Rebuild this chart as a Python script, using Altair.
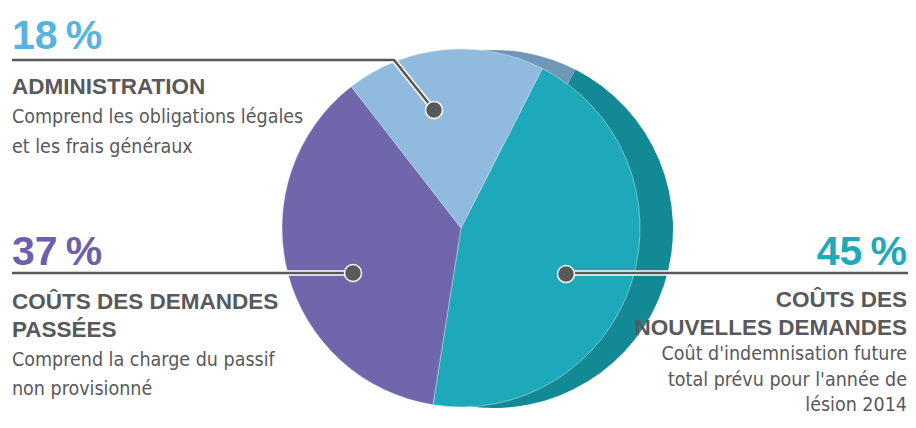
import altair as alt
import pandas as pd
import math

# ---------------- data ----------------
categories = ["Coûts des nouvelles demandes", "Coûts des demandes passées", "Administration"]
shares = [45, 37, 18]
slice_order = [1, 2, 3]

pct_labels = ["18\u2009%", "37\u2009%", "45\u2009%"]
admin_title = ["ADMINISTRATION"]
admin_desc = ["Comprend les obligations légales", "et les frais généraux"]
past_title = ["COÛTS DES DEMANDES", "PASSÉES"]
past_desc = ["Comprend la charge du passif", "non provisionné"]
new_title = ["COÛTS DES", "NOUVELLES DEMANDES"]
new_desc = ["Coût d'indemnisation future", "total prévu pour l'année de", "lésion 2014"]

# ---------------- styles ----------------
front_colors = ["#1ea9ba", "#7066ab", "#90bade"]
side_colors = ["#138996", "#564d8c", "#6f97b8"]
pct_colors = ["#5ab3df", "#6c5fab", "#1fa9b9"]
GRAY = "#58595b"
COND = "DejaVu Sans Condensed, DejaVu Sans, sans-serif"
WIDE = "Liberation Sans, Arial, sans-serif"

OFF = 8  # page margin: page pixel -> chart pixel
def P(v):
    return v - OFF

START = math.radians(27)

pie_df = pd.DataFrame({"category": categories, "value": shares, "order": slice_order})

def pie(cx, cy, r, colors, **kw):
    return alt.Chart(pie_df).mark_arc(radius=r, **kw).encode(
        x=alt.value(P(cx)),
        y=alt.value(P(cy)),
        theta=alt.Theta("value:Q", stack=True,
                        scale=alt.Scale(domain=[0, sum(shares)], range=[START, START + 2 * math.pi])),
        order=alt.Order("order:Q"),
        color=alt.Color("category:N", scale=alt.Scale(domain=categories, range=colors), legend=None),
    )

R = 179
side = pie(494, 229, R, side_colors)
front = pie(461, 228, R, front_colors, stroke="#d8f0f2", strokeWidth=0.8, strokeOpacity=0.6)

# leader lines (layout)
lead_rows = []
for gid, pts in enumerate([[(12, 60), (394, 60), (434, 110)],
                           [(12, 273), (353, 273)],
                           [(566, 273), (916, 273)]]):
    for i, (x, y) in enumerate(pts):
        lead_rows.append({"g": gid, "i": i, "x": P(x), "y": P(y)})
lead_df = pd.DataFrame(lead_rows)

def leader(color, w):
    return alt.Chart(lead_df).mark_line(color=color, strokeWidth=w, strokeJoin="miter").encode(
        x=alt.X("x:Q", scale=None), y=alt.Y("y:Q", scale=None),
        detail="g:N", order="i:Q")

dots_df = pd.DataFrame({"x": [P(434), P(353), P(566)], "y": [P(110), P(273), P(274)]})
dots = alt.Chart(dots_df).mark_point(filled=True, shape="circle", size=290, color=GRAY,
                                     stroke="white", strokeWidth=1.5, opacity=1).encode(
    x=alt.X("x:Q", scale=None), y=alt.Y("y:Q", scale=None))

# text lines
rows = []
def add(lines, x, y0, step, kind, align, color):
    for k, t in enumerate(lines):
        rows.append({"t": t, "x": P(x), "y": P(y0 + k * step), "kind": kind, "align": align, "c": color})

RX = 907
add([pct_labels[0]], 12, 49, 0, "pct", "left", pct_colors[0])
add(admin_title, 12, 94, 0, "head", "left", GRAY)
add(admin_desc, 12, 123, 30, "body", "left", GRAY)
add([pct_labels[1]], 12, 265, 0, "pct", "left", pct_colors[1])
add(past_title, 12, 309, 28, "head", "left", GRAY)
add(past_desc, 12, 366, 28.5, "body", "left", GRAY)
add([pct_labels[2]], RX, 265, 0, "pct", "right", pct_colors[2])
add(new_title, RX, 307, 27.5, "head", "right", GRAY)
add(new_desc, RX, 360, 25.5, "body", "right", GRAY)
text_df = pd.DataFrame(rows)

def texts(kind, align, font, size, weight):
    return alt.Chart(text_df).transform_filter(
        (alt.datum.kind == kind) & (alt.datum.align == align)
    ).mark_text(align=align, baseline="alphabetic", font=font, fontSize=size, fontWeight=weight).encode(
        x=alt.X("x:Q", scale=None), y=alt.Y("y:Q", scale=None),
        text="t:N", color=alt.Color("c:N", scale=None))

layers = [side, front, leader("white", 5.5), leader(GRAY, 2.6), dots]
for al in ["left", "right"]:
    layers.append(texts("pct", al, WIDE, 41, "bold"))
    layers.append(texts("head", al, WIDE, 22.5, "bold"))
    layers.append(texts("body", al, COND, 19.5, "normal"))

chart = alt.layer(*layers).resolve_scale(color="independent").properties(
    width=900, height=412, autosize=alt.AutoSizeParams(type="none"), padding=0,
    background="white",
).configure_view(stroke=None)

chart.save("out.html", embed_options={"renderer": "svg", "actions": False})
